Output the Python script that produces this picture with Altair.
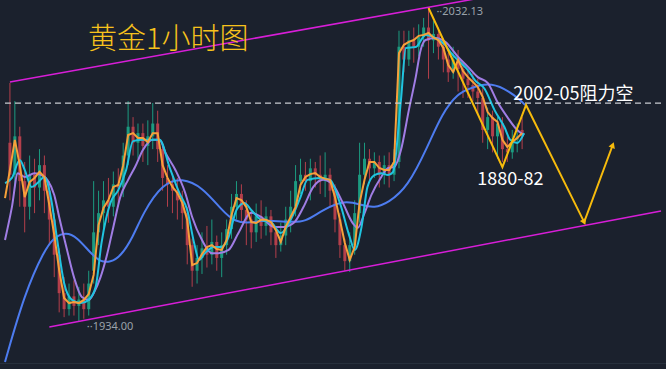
import altair as alt
import pandas as pd

BG = "#1b212d"

# ---------------- candles (hourly bars, index 0..104) ----------------
opens = [1990,1980,1992,1978,1970,1980,1976,1983,1975,1966,1955,1943,1938,1942,1939,1941,1938,1950,1962,1968,
         1972,1970,1977,1976,1986,1995,1990,1993,1989,1992,1996,1988,1979,1977,1975,1972,1968,1958,1950,1954,
         1957,1955,1959,1954,1958,1963,1970,1974,1969,1966,1962,1967,1964,1967,1962,1958,1961,1966,1970,1978,
         1980,1978,1982,1980,1978,1980,1975,1966,1958,1953,1958,1968,1980,1985,1982,1984,1980,1983,1980,1984,
         2020,2016,2022,2020,2023,2026,2022,2024,2020,2016,2012,2016,2013,2010,2008,2006,2004,1994,1998,1992,
         1996,1988,1987,1991,1994]
closes = [1980,1992,1978,1970,1980,1976,1983,1975,1966,1955,1943,1938,1942,1939,1941,1938,1946,1962,1968,1972,
          1970,1977,1976,1986,1995,1990,1993,1989,1992,1996,1988,1979,1977,1975,1972,1968,1958,1950,1954,1957,
          1955,1959,1954,1958,1963,1970,1974,1969,1966,1962,1967,1964,1967,1962,1958,1961,1966,1970,1978,1980,
          1978,1982,1980,1978,1980,1975,1966,1958,1953,1958,1968,1980,1985,1982,1984,1980,1983,1980,1984,2020,
          2016,2022,2020,2023,2026,2022,2024,2020,2016,2012,2016,2013,2010,2008,2006,2004,1994,1998,1992,1996,
          1988,1987,1991,1992,1992]
highs = [2008.7,2003,1995,1984,1986,1985,1988,1986,1978,1968,1957,1948,1946,1947,1945,1946,1950,1978,1975,1978,
         1979,1981,1982,1990,2003,1998,1996,1996,1997,2002.4,2000,1990,1983,1980,1979,1975,1970,1960,1958,1962,
         1964,1966,1961,1962,1966,1974,1978,1977,1972,1969,1971,1972,1970,1969,1964,1965,1970,1975,1983,1985,
         1984,1985,1984,1986,1987,1982,1977,1968,1960,1962,1972,1990,1990,1988,1987,1986,1986,1987,1988,2025,
         2025,2025,2026,2027,2029,2032.13,2028,2026,2022,2018,2020,2019,2015,2013,2012,2010,2007,2001,2000,1998,
         1998,1992,1994,1996,1998]
lows = [1972,1976,1970,1962,1966,1968,1972,1968,1958,1948,1937,1935.5,1936,1936,1934,1935,1936,1946,1958,1963,
        1965,1967,1971,1973,1983,1986,1985,1984,1983,1988,1984,1975,1970,1968,1966,1963,1952,1945,1946,1949,
        1951,1952,1950,1948,1955,1960,1966,1965,1958,1957,1959,1960,1961,1958,1954,1956,1958,1962,1967,1974,
        1975,1972,1976,1974,1973,1970,1962,1954,1950,1949.6,1955,1965,1977,1978,1979,1976,1977,1976,1978,1982,
        2012,2014,2015,2017,2020,2010,2018,2016,2012,2009,2010,2006,2004,2004,2003,1999,1990,1988,1987,1985,
        1984,1984,1985,1987,1988]

# ---------------- moving averages (bar index, price) ----------------
ma_fast_x = [-1,0,1,2,3,4,5,6,7,8,9,10,11,12,13,14,15,16,17,18,19,20,21,22,23,24,25,26,27,28,29,30,31,32,33,34,35,36,37,38,39,
             40,41,42,43,44,45,46,47,48,49,50,51,52,53,54,55,56,57,58,59,60,61,62,63,64,65,66,67,68,69,70,71,72,73,74,75,76,77,78,
             79,80,81,82,83,84,85,86,87,88,89,90,91,92,93,94,95,96,97,98,99,100,101,102,103,104]
ma_fast_y = [1972.7,1981.5,1990.9,1983.0,1973.0,1977.7,1979.0,1980.9,1979.3,1970.5,1961.2,1950.2,1941.5,1939.9,1940.2,1939.9,
             1940.9,1942.7,1948.7,1964.3,1969.6,1972.1,1976.2,1976.8,1983.0,1992.4,1993.0,1991.5,1991.5,1990.2,1993.0,1993.0,
             1983.0,1979.0,1976.2,1974.3,1971.2,1965.9,1951.8,1952.4,1955.2,1957.4,1958.0,1956.8,1956.5,1959.6,1967.4,1972.7,
             1972.1,1969.9,1965.2,1964.9,1965.9,1965.9,1965.2,1962.7,1959.0,1963.7,1966.8,1969.9,1976.8,1979.3,1980.2,1980.5,
             1979.3,1978.7,1978.4,1973.0,1965.9,1958.7,1953.4,1957.4,1971.2,1978.4,1984.0,1984.0,1982.1,1981.5,1981.5,1984.0,
             2018.0,2020.6,2021.5,2022.1,2023.4,2023.7,2024.3,2022.8,2022.1,2019.6,2014.3,2012.1,2015.9,2012.4,2010.5,2009.0,
             2007.4,2004.3,1999.6,1997.7,1996.5,1990.9,1988.7,1990.2,1991.5,1993.0]

ma_mid_x = [-1,0.4,2,3,4.4,5.6,7,8.4,9.6,11,12.6,14.4,16,17.4,18.6,20.4,22,23.6,25,27,29,30.4,32.4,34.4,36,37.4,38.4,39.6,
            41.4,43,44.4,46,47.6,49,51,53,55,57,59,60.4,63,65,67,69,70,71.4,72.6,74,75.4,76.8,77.8,79.4,80.4,82.4,84.4,
            86.4,88.4,89.6,91.6,93,94.4,96.4,98.4,100.4,101.6,103,104.4]
ma_mid_y = [1977.4,1979.0,1984.6,1981.5,1976.2,1977.4,1979.3,1972.1,1959.6,1946.2,1940.9,1939.9,1940.9,1944.9,1958.7,
            1971.2,1975.2,1981.5,1990.5,1990.9,1990.9,1990.9,1982.4,1974.3,1969.0,1958.7,1953.4,1955.5,1957.4,1957.4,
            1960.5,1969.0,1971.2,1969.0,1965.9,1965.2,1961.8,1965.9,1973.0,1978.4,1979.0,1978.4,1971.2,1960.5,1956.5,
            1963.7,1976.2,1979.9,1980.5,1979.9,1980.9,2003.4,2019.6,2019.9,2023.7,2022.7,2020.5,2018.0,2014.9,2012.7,
            2009.6,2006.8,2000.2,1994.9,1990.9,1989.9,1993.0]

ma_slow_x = [-1,0.4,1.6,3,5,6.4,7.6,9,10,11.6,13,14.6,16,17,18.4,19.6,21,22.4,24,25.4,27,29,30.4,31.6,33.6,35.6,37,39,
             41,42.4,44.4,46.4,49,51,53.6,55.6,57.6,59.6,61.6,63.6,65.6,67.6,69.6,70.6,72,73.4,75.4,76.8,78,79.4,81,
             82.4,83.4,84.4,86.4,88.4,91,93,95,97,99,101,103,104.4]
ma_slow_y = [1959.6,1969.9,1980.5,1979.3,1980.5,1979.9,1978.4,1973.7,1966.8,1956.5,1948.0,1941.8,1940.9,1943.0,1948.0,
             1954.3,1963.7,1973.0,1978.4,1982.4,1987.7,1990.9,1990.9,1986.8,1981.5,1974.3,1966.8,1959.6,1955.5,1955.5,
             1956.5,1961.8,1968.1,1966.8,1963.7,1963.7,1964.9,1969.9,1976.2,1978.4,1976.8,1971.2,1964.9,1963.4,1968.0,
             1973.7,1979.3,1982.1,1982.4,1987.7,2000.2,2010.5,2019.0,2022.1,2022.7,2021.5,2016.8,2013.7,2010.5,2008.7,
             2002.7,1998.0,1994.0,1992.4]

ma_long_x = [-1,3,7,9,11.4,13.6,16.4,18.4,20.4,22.4,25,27,31,35,39,43,45.6,49,51.4,56.8,60,63.4,68,71.4,74,76.8,80.8,
             84.8,87.8,91,93.6,97,100.4,103.6,104.6]
ma_long_y = [1921.5,1943.0,1956.5,1960.5,1962.1,1960.5,1955.5,1952.7,1952.7,1954.3,1960.5,1968.0,1977.4,1979.0,1976.2,
             1969.0,1965.2,1964.9,1965.9,1965.2,1965.2,1969.0,1972.1,1970.5,1969.6,1971.2,1976.2,1988.7,1999.3,2005.5,
             2007.1,2008.7,2007.1,2003.4,2001.8]

# ---------------- channel, levels, forecast path ----------------
upper_x = [0, 110]
upper_y = [2009.0, 2039.2]
lower_x = [8.0, 132.2]
lower_y = [1932.4, 1968.7]
resist_level = 2002.4

path_x = [85, 100, 104.8, 116.6, 122.4]
path_y = [2032.1, 1982.4, 2001.8, 1965.2, 1989.3]
arrow_x = [116.6, 122.4]
arrow_y = [1965.2, 1989.3]
arrow_angle = [153, 21]

labels = ["2002-05阻力空", "1880-82"]
labels_x = [102.2, 101.6]
labels_y = [2004.9, 1978.4]

price_tags = ["2032.13", "1934.00"]
price_tags_x = [86.6, 15.6]
price_tags_y = [2030.9, 1932.4]
title_text = "黄金1小时图"

X = alt.Scale(domain=[-1, 132.2], nice=False, zero=False)
Y = alt.Scale(domain=[1919.3, 2034.6], nice=False, zero=False)

candles = pd.DataFrame({"t": list(range(len(opens))), "o": opens, "c": closes, "h": highs, "l": lows})
candles["up"] = candles["c"] >= candles["o"]
ccol = alt.condition("datum.up", alt.value("#1c9b80"), alt.value("#b43f4b"))

wick = alt.Chart(candles).mark_rule(strokeWidth=1).encode(
    x=alt.X("t:Q", scale=X, axis=None), y=alt.Y("l:Q", scale=Y, axis=None), y2="h:Q", color=ccol)
body = alt.Chart(candles).mark_bar(size=3).encode(
    x=alt.X("t:Q", scale=X, axis=None), y=alt.Y("o:Q", scale=Y, axis=None), y2="c:Q", color=ccol)


def line(xs, ys, color, w=2, interp="monotone", dash=None):
    df = pd.DataFrame({"x": xs, "y": ys, "i": range(len(xs))})
    kw = dict(color=color, strokeWidth=w, interpolate=interp)
    if dash:
        kw["strokeDash"] = dash
    return alt.Chart(df).mark_line(**kw).encode(
        x=alt.X("x:Q", scale=X, axis=None), y=alt.Y("y:Q", scale=Y, axis=None), order="i:Q")


ma_long = line(ma_long_x, ma_long_y, "#4d7cf0", 2, "basis")
ma_slow = line(ma_slow_x, ma_slow_y, "#a07de4", 2, "monotone")
ma_mid = line(ma_mid_x, ma_mid_y, "#20c4e0", 2, "monotone")
ma_fast = line(ma_fast_x, ma_fast_y, "#f7a03a", 2, "linear")

upper = line(upper_x, upper_y, "#d81ed8", 1.5, "linear")
lower = line(lower_x, lower_y, "#d81ed8", 1.5, "linear")
resist = line([-1, 132.2], [resist_level, resist_level], "#c9ccd1", 1.2, "linear", [6, 4])

path = line(path_x, path_y, "#f7bb0c", 2, "linear")
arrows = alt.Chart(pd.DataFrame({"x": arrow_x, "y": arrow_y, "a": arrow_angle})).mark_point(
    shape="triangle-up", filled=True, size=45, color="#f7bb0c", opacity=1).encode(
    x=alt.X("x:Q", scale=X, axis=None), y=alt.Y("y:Q", scale=Y, axis=None), angle=alt.Angle("a:Q", scale=None))

lab_df = pd.DataFrame({"x": labels_x, "y": labels_y, "s": labels})
lab_left = alt.Chart(lab_df.iloc[[0]]).mark_text(
    align="left", baseline="middle", fontSize=18, color="#ffffff", font="Noto Sans CJK SC").encode(
    x=alt.X("x:Q", scale=X, axis=None), y=alt.Y("y:Q", scale=Y, axis=None), text="s:N")
lab_center = alt.Chart(lab_df.iloc[[1]]).mark_text(
    align="center", baseline="middle", fontSize=18, color="#ffffff", font="Noto Sans CJK SC").encode(
    x=alt.X("x:Q", scale=X, axis=None), y=alt.Y("y:Q", scale=Y, axis=None), text="s:N")

tags = alt.Chart(pd.DataFrame({"x": price_tags_x, "y": price_tags_y, "s": ["··" + s for s in price_tags]})).mark_text(
    align="left", baseline="middle", fontSize=11, color="#9aa1aa", font="Noto Sans").encode(
    x=alt.X("x:Q", scale=X, axis=None), y=alt.Y("y:Q", scale=Y, axis=None), text="s:N")

title = alt.Chart(pd.DataFrame({"s": [title_text]})).mark_text(
    align="left", baseline="middle", fontSize=29, fontWeight=300, color="#f7c21c", font="Noto Sans CJK SC").encode(
    x=alt.value(88), y=alt.value(40), text="s:N")

bottom_edge = alt.Chart(pd.DataFrame({"k": [0]})).mark_rule(color="#27303c", strokeWidth=1).encode(
    x=alt.value(0), x2=alt.value(666), y=alt.value(363.5))

chart = alt.layer(
    wick, body, ma_long, ma_slow, ma_mid, ma_fast, upper, lower, resist, path, arrows,
    lab_left, lab_center, tags, title, bottom_edge
).properties(
    width=666, height=369, padding=0, background=BG,
    autosize=alt.AutoSizeParams(type="fit", contains="padding")
).configure_view(stroke=None, clip=True)

chart.save("out.html", embed_options={"renderer": "svg", "actions": False})
